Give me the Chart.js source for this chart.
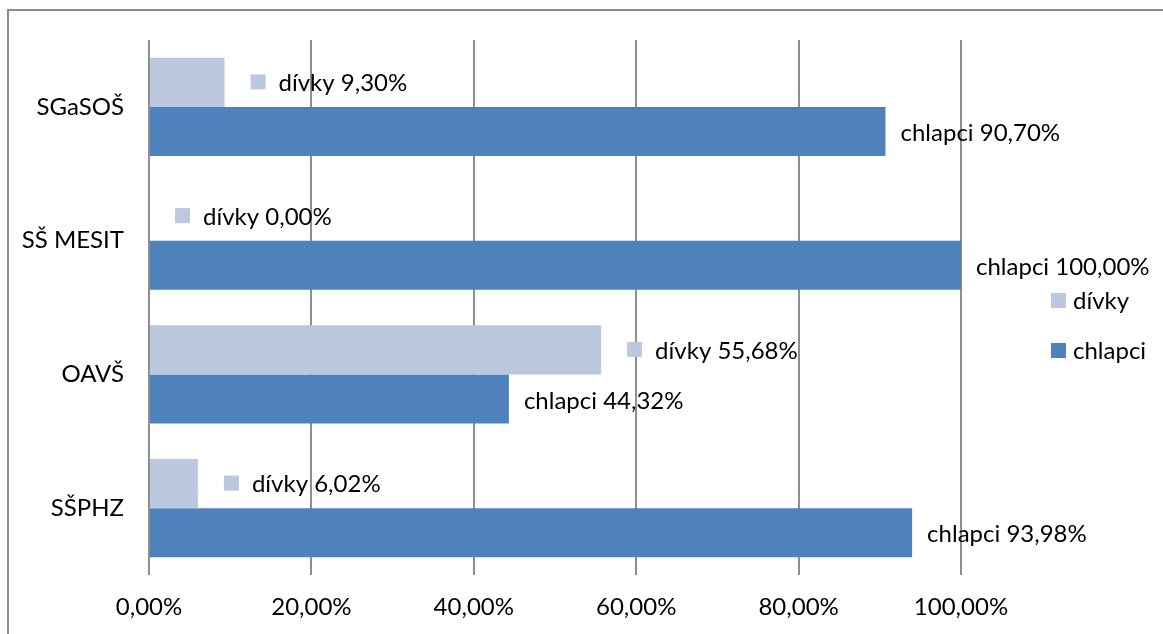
<!DOCTYPE html>
<html>
<head>
<meta charset="utf-8">
<script src="https://cdn.jsdelivr.net/npm/chart.js@4.4.0/dist/chart.umd.min.js"></script>
<style>
  html, body { margin: 0; padding: 0; background: #fff; }
  #wrap { width: 1163px; height: 634px; position: relative; }
</style>
</head>
<body>
<div id="wrap"><canvas id="schoolChart"></canvas></div>
<script>
const schools = ['SGaSOŠ', 'SŠ MESIT', 'OAVŠ', 'SŠPHZ'];
const girls = [9.30, 0.00, 55.68, 6.02];   // dívky
const boys = [90.70, 100.00, 44.32, 93.98]; // chlapci
const xTicks = [0, 20, 40, 60, 80, 100];

const FONT = 'Lato, "Noto Sans", sans-serif';
const FSIZE = 24;
const pct = v => v.toFixed(2).replace('.', ',') + '%';

// frame, bar labels with legend keys, and the side legend
const extras = {
  id: 'extras',
  beforeDraw(chart) {
    const c = chart.ctx;
    c.save();
    c.strokeStyle = '#8c8c8c';
    c.lineWidth = 2;
    c.strokeRect(8, 10, 1300, 800);
    c.restore();
  },
  afterDatasetsDraw(chart) {
    const c = chart.ctx;
    c.save();
    c.font = FSIZE + 'px ' + FONT;
    c.textBaseline = 'middle';
    c.fillStyle = '#000';
    chart.data.datasets.forEach((ds, i) => {
      chart.getDatasetMeta(i).data.forEach((bar, j) => {
        const txt = ds.label + ' ' + pct(ds.data[j]);
        if (i === 0) {
          c.fillStyle = ds.backgroundColor;
          c.fillRect(bar.x + 26, bar.y - 8, 15, 15);
          c.fillStyle = '#000';
          c.fillText(txt, bar.x + 54, bar.y + 1);
        } else {
          c.fillText(txt, bar.x + 15, bar.y + 2);
        }
      });
    });
    // legend
    chart.data.datasets.forEach((ds, i) => {
      const y = 300 + i * 50;
      c.fillStyle = ds.backgroundColor;
      c.fillRect(1051, y - 7, 15, 15);
      c.fillStyle = '#000';
      c.fillText(ds.label, 1073, y + 1);
    });
    c.restore();
  }
};

new Chart(document.getElementById('schoolChart'), {
  type: 'bar',
  data: {
    labels: schools,
    datasets: [
      { label: 'dívky', data: girls, backgroundColor: '#BBC8E0', borderWidth: 0 },
      { label: 'chlapci', data: boys, backgroundColor: '#4F81BD', borderWidth: 0 }
    ]
  },
  options: {
    indexAxis: 'y',
    responsive: true,
    maintainAspectRatio: false,
    animation: false,
    layout: { padding: { top: 40, right: 202, left: 0, bottom: 0 } },
    datasets: { bar: { categoryPercentage: 0.733, barPercentage: 1.0 } },
    plugins: {
      legend: { display: false },
      tooltip: { enabled: false }
    },
    scales: {
      x: {
        min: 0, max: 100,
        afterBuildTicks(axis) { axis.ticks = xTicks.map(v => ({ value: v })); },
        afterFit(axis) { axis.height = 59; },
        grid: { color: '#8f8f8f', lineWidth: 2, drawTicks: false },
        border: { display: false },
        ticks: {
          padding: 18,
          color: '#000',
          font: { family: FONT, size: FSIZE },
          callback: v => pct(v)
        }
      },
      y: {
        afterFit(axis) { axis.width = 149; },
        grid: { display: false, drawTicks: false },
        border: { display: false },
        ticks: {
          padding: 25,
          color: '#000',
          font: { family: FONT, size: FSIZE }
        }
      }
    }
  },
  plugins: [extras]
});
</script>
</body>
</html>
